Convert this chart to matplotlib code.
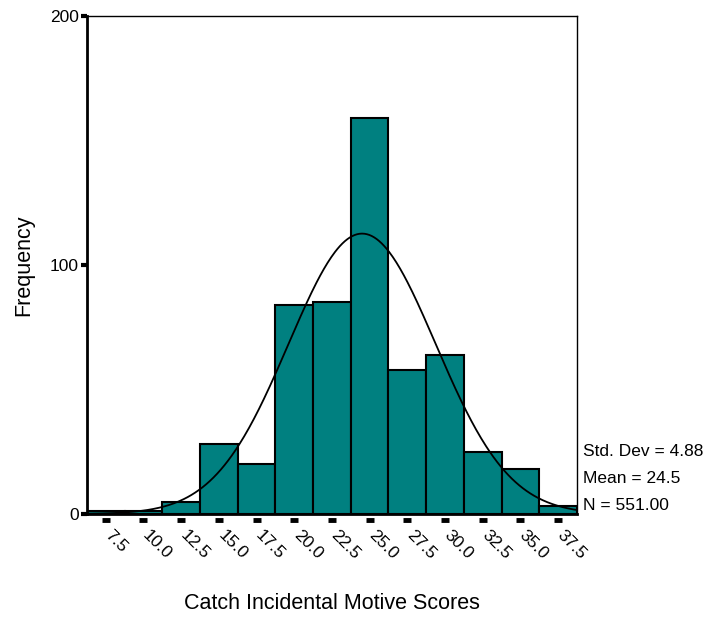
import numpy as np
import matplotlib
matplotlib.use("Agg")
import matplotlib.pyplot as plt
import matplotlib.transforms as mtransforms

plt.rcParams['font.family'] = ['Liberation Sans', 'DejaVu Sans']

# histogram bins (centres) and counts
bin_centers = [7.5, 10.0, 12.5, 15.0, 17.5, 20.0, 22.5, 25.0, 27.5, 30.0, 32.5, 35.0, 37.5]
counts = [1, 1, 5, 28, 20, 84, 85, 159, 58, 64, 25, 18, 3]
tick_labels = ["7.5", "10.0", "12.5", "15.0", "17.5", "20.0", "22.5",
               "25.0", "27.5", "30.0", "32.5", "35.0", "37.5"]
bin_width = 2.5

# summary statistics
std_dev = 4.88
mean = 24.5
n = 551

fig = plt.figure(figsize=(7.07, 6.17), dpi=100)
ax = fig.add_axes([0.123, 0.167, 0.693, 0.807])

ax.bar(bin_centers, counts, width=bin_width, color="#008080",
       edgecolor="black", linewidth=1.5, zorder=2)

# normal curve scaled to counts
xs = np.linspace(bin_centers[0] - bin_width / 2, bin_centers[-1] + bin_width / 2, 400)
ys = n * bin_width / (std_dev * np.sqrt(2 * np.pi)) * np.exp(-0.5 * ((xs - mean) / std_dev) ** 2)
ax.plot(xs, ys, color="black", linewidth=1.3, zorder=3)

ax.set_xlim(bin_centers[0] - bin_width / 2, bin_centers[-1] + bin_width / 2)
ax.set_ylim(0, 200)

# frame: heavy left/bottom, thin top/right
for side in ["left", "bottom"]:
    ax.spines[side].set_linewidth(2)
for side in ["top", "right"]:
    ax.spines[side].set_linewidth(1)

ax.set_yticks([0, 100, 200])
ax.tick_params(axis="y", direction="out", length=4, width=3, labelsize=12.5, pad=2)

ax.set_xticks(bin_centers)
ax.set_xticklabels(tick_labels, rotation=-45, ha="left", va="top",
                   rotation_mode="anchor", fontsize=12.5)
ax.tick_params(axis="x", length=0, pad=10)
shift = mtransforms.ScaledTranslation(5 / 72, 0, fig.dpi_scale_trans)
for lbl in ax.get_xticklabels():
    lbl.set_transform(lbl.get_transform() + shift)

# detached tick dashes under the x axis
trans = mtransforms.blended_transform_factory(ax.transData, ax.transAxes)
trans = trans + mtransforms.ScaledTranslation(0, -4.5 / 72, fig.dpi_scale_trans)
ax.plot(bin_centers, [0] * len(bin_centers), linestyle="none", marker="_",
        markersize=6, markeredgewidth=3.5, color="black",
        transform=trans, clip_on=False)

ax.set_xlabel("Catch Incidental Motive Scores", fontsize=15.5, labelpad=22)
ax.set_ylabel("Frequency", fontsize=15.5, labelpad=11)

stats = ["Std. Dev = %.2f" % std_dev, "Mean = %.1f" % mean, "N = %.2f" % n]
for i, s in enumerate(stats):
    ax.text(1.013, 0.125 - i * 0.054, s, transform=ax.transAxes,
            fontsize=12.5, ha="left", va="center")

fig.savefig("out.png", dpi=100)
